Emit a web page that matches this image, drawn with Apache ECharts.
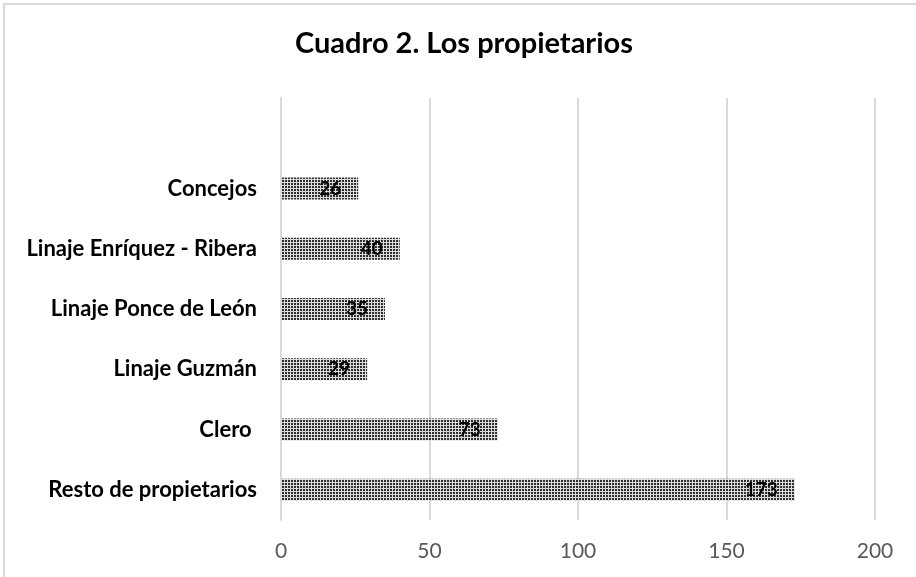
<!DOCTYPE html>
<html>
<head>
<meta charset="utf-8">
<script src="https://cdn.jsdelivr.net/npm/echarts@6/dist/echarts.min.js"></script>
<style>
  html, body { margin: 0; padding: 0; background: #fff; overflow: hidden; }
  #frame { position: absolute; left: 3px; top: 3px; width: 1000px; height: 700px;
           border-left: 2px solid #d9d9d9; border-top: 2px solid #d9d9d9; }
  #chart { position: absolute; left: 0; top: 0; width: 916px; height: 577px; }
</style>
</head>
<body>
<div id="frame"></div>
<div id="chart"></div>
<script>
// categories, bottom to top (the top row is blank in the source sheet)
var categories = ["Resto de propietarios", "Clero ", "Linaje Guzmán", "Linaje Ponce de León", "Linaje Enríquez - Ribera", "Concejos", ""];
var values = [173, 73, 29, 35, 40, 26, null];
var xTicks = [0, 50, 100, 150, 200];

// dotted-grid fill like the Excel pattern
function makePattern() {
  let c = document.createElement("canvas");
  c.width = 3;
  c.height = 3;
  let ctx = c.getContext("2d");
  ctx.fillStyle = "#dcdcdc";
  ctx.fillRect(0, 0, 3, 3);
  ctx.fillStyle = "#2e2e2e";
  ctx.fillRect(0, 0, 2, 2);
  return c;
}

let chart = echarts.init(document.getElementById("chart"));
let option = {
  backgroundColor: "transparent",
  animation: false,
  title: {
    text: "Cuadro 2. Los propietarios",
    left: 290,
    top: 24,
    textStyle: {
      fontFamily: "Lato",
      fontSize: 29,
      fontWeight: "bold",
      color: "#000"
    }
  },
  grid: {
    left: 281,
    right: 41,
    top: 98,
    bottom: 57,
    containLabel: false
  },
  xAxis: {
    type: "value",
    min: xTicks[0],
    max: xTicks[xTicks.length - 1],
    interval: 50,
    axisLine: { show: false },
    axisTick: { show: false },
    splitLine: { show: true, lineStyle: { color: "#d9d9d9", width: 2 } },
    axisLabel: {
      margin: 21,
      fontFamily: "Lato",
      fontSize: 21,
      color: "#595959"
    }
  },
  yAxis: {
    type: "category",
    data: categories,
    axisLine: { show: true, lineStyle: { color: "#d9d9d9", width: 2 } },
    axisTick: { show: false },
    axisLabel: {
      margin: 24,
      fontFamily: "Lato",
      fontSize: 22,
      fontWeight: "bold",
      color: "#000"
    }
  },
  series: [
    {
      type: "bar",
      data: values,
      barWidth: 22,
      itemStyle: {
        color: { image: makePattern(), repeat: "repeat" }
      },
      label: {
        show: true,
        position: "insideRight",
        distance: 17,
        fontFamily: "Lato",
        fontSize: 19,
        fontWeight: "bold",
        color: "#000"
      }
    }
  ]
};
chart.setOption(option, true);
</script>
</body>
</html>
